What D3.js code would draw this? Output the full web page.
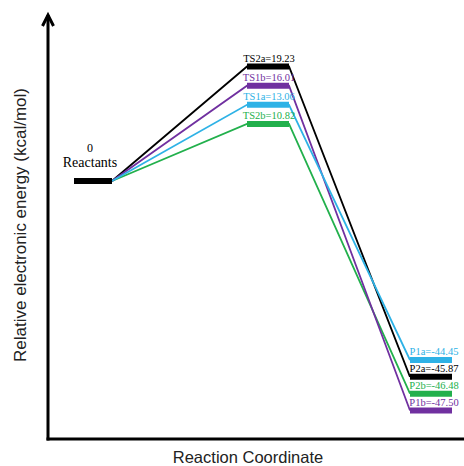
<!DOCTYPE html>
<html>
<head>
<meta charset="utf-8">
<script src="https://cdnjs.cloudflare.com/ajax/libs/d3/7.8.5/d3.min.js"></script>
<style>
  html, body { margin: 0; padding: 0; background: #fff; }
  svg { display: block; }
</style>
</head>
<body>
<script>
// stages along the reaction coordinate
var stages = ['R', 'TS', 'P'];

// pathway names, one per colour
var pathways = ['1a', '1b', '2a', '2b'];

// energies (kcal/mol), by pathway
var reactantEnergy = 0;
var tsNames = ['TS1a', 'TS1b', 'TS2a', 'TS2b'];
var tsEnergy = [13.06, 16.01, 19.23, 10.82];
var productNames = ['P1a', 'P1b', 'P2a', 'P2b'];
var productEnergy = [-44.45, -47.50, -45.87, -46.48];

var pathColors = ['#2eb2e6', '#7030a0', '#000000', '#22b04c'];

(function () {

    var width = 464, height = 466;
    var serif = '"Liberation Serif", "Times New Roman", serif';
    var sans = '"Liberation Sans", Arial, sans-serif';

    var svg = d3.select('body').append('svg')
        .attr('width', width)
        .attr('height', height);

    // left edge of the level bars for each stage
    var x = d3.scaleOrdinal()
        .domain(stages)
        .range([74, 247, 410]);
    var barW = d3.scaleOrdinal()
        .domain(stages)
        .range([38, 42, 42]);
    // labels sit a little right of the bar centre
    var labelShift = d3.scaleOrdinal()
        .domain(stages)
        .range([0, 1, 3]);

    // schematic diagram: levels of a stage are stacked by energy rank
    function rankScale(names, energies, range) {
        var order = d3.range(names.length)
            .sort(function (a, b) { return energies[b] - energies[a]; })
            .map(function (i) { return names[i]; });
        return d3.scalePoint().domain(order).range(range);
    }
    var yR = 181;
    var yTS = rankScale(tsNames, tsEnergy, [66.5, 124]);
    var yP = rankScale(productNames, productEnergy, [360, 410.5]);

    var color = d3.scaleOrdinal().domain(pathways).range(pathColors);

    var levels = pathways.map(function (p, i) {
        return {
            path: p,
            ts: tsNames[i], tsE: tsEnergy[i], tsY: yTS(tsNames[i]),
            p: productNames[i], pE: productEnergy[i], pY: yP(productNames[i])
        };
    });

    // axes with arrow on the energy axis
    var x0 = 48, yBase = 439;
    svg.append('line')
        .attr('x1', x0).attr('x2', x0)
        .attr('y1', 15).attr('y2', yBase + 1.5)
        .attr('stroke', '#000').attr('stroke-width', 3);
    svg.append('path')
        .attr('d', 'M' + (x0 - 5.5) + ',26L' + x0 + ',15L' + (x0 + 5.5) + ',26')
        .attr('fill', 'none').attr('stroke', '#000').attr('stroke-width', 3);
    svg.append('line')
        .attr('x1', x0 - 1.5).attr('x2', width)
        .attr('y1', yBase).attr('y2', yBase)
        .attr('stroke', '#000').attr('stroke-width', 3);

    // connectors
    var links = svg.append('g').attr('fill', 'none').attr('stroke-width', 1.8);
    levels.slice().reverse().forEach(function (d) {
        links.append('polyline')
            .attr('points', [
                [x('R') + barW('R'), yR],
                [x('TS'), d.tsY],
                [x('TS') + barW('TS'), d.tsY],
                [x('P'), d.pY]
            ].join(' '))
            .attr('stroke', color(d.path));
    });

    // level bars
    function bar(stage, y, c) {
        svg.append('line')
            .attr('x1', x(stage)).attr('x2', x(stage) + barW(stage))
            .attr('y1', y).attr('y2', y)
            .attr('stroke', c).attr('stroke-width', 6);
    }
    function label(stage, y, txt, c) {
        svg.append('text')
            .attr('x', x(stage) + barW(stage) / 2 + labelShift(stage))
            .attr('y', y - 5)
            .attr('text-anchor', 'middle')
            .attr('font-family', serif)
            .attr('font-size', 10.5)
            .attr('fill', c)
            .text(txt);
    }

    bar('R', yR, '#000');
    levels.forEach(function (d) {
        bar('TS', d.tsY, color(d.path));
        bar('P', d.pY, color(d.path));
        label('TS', d.tsY, d.ts + '=' + d.tsE.toFixed(2), color(d.path));
        label('P', d.pY, d.p + '=' + d.pE.toFixed(2), color(d.path));
    });

    svg.append('text')
        .attr('x', 90).attr('y', 152)
        .attr('text-anchor', 'middle')
        .attr('font-family', serif).attr('font-size', 12)
        .text(reactantEnergy);
    svg.append('text')
        .attr('x', 90).attr('y', 167)
        .attr('text-anchor', 'middle')
        .attr('font-family', serif).attr('font-size', 14)
        .text('Reactants');

    // axis titles
    svg.append('text')
        .attr('x', 248).attr('y', 463)
        .attr('text-anchor', 'middle')
        .attr('font-family', sans).attr('font-size', 16.5)
        .attr('fill', '#222')
        .text('Reaction Coordinate');
    svg.append('text')
        .attr('transform', 'translate(26,225) rotate(-90)')
        .attr('text-anchor', 'middle')
        .attr('font-family', sans).attr('font-size', 17)
        .attr('fill', '#222')
        .text('Relative electronic energy (kcal/mol)');

})();
</script>
</body>
</html>
